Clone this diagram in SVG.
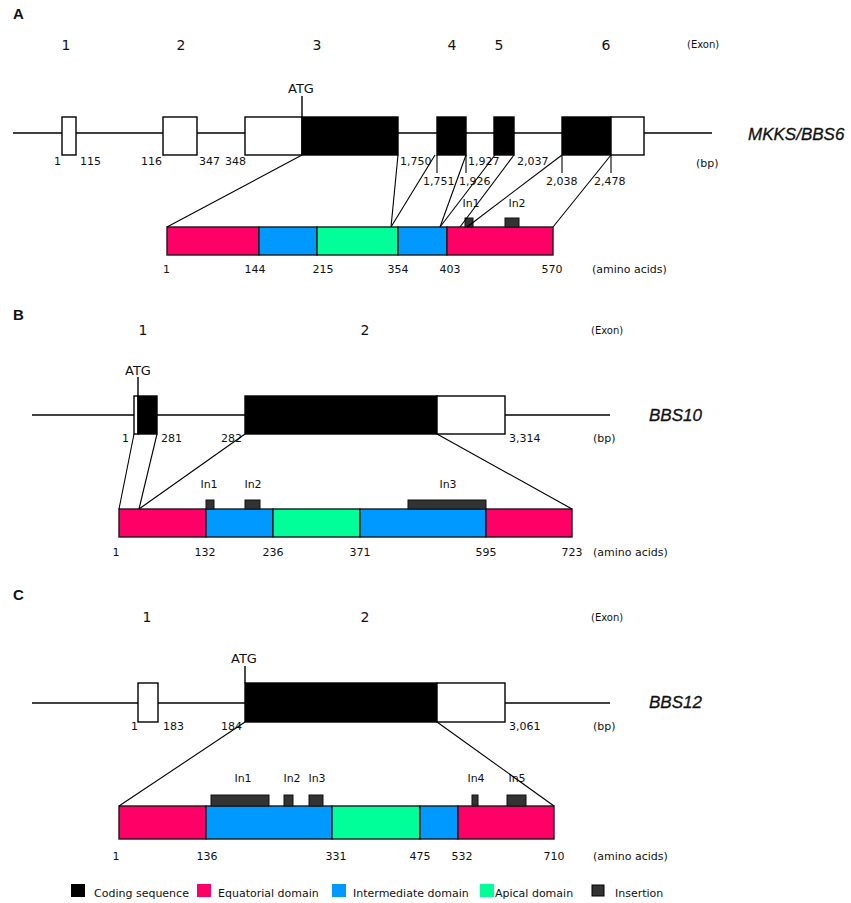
<svg xmlns="http://www.w3.org/2000/svg" width="851" height="903" viewBox="0 0 851 903">
<style>
text{font-family:"DejaVu Sans",Verdana,sans-serif;fill:#111}
.pl{font-family:"Liberation Sans",Arial,sans-serif;font-weight:bold;font-size:15px}
.ex{font-size:14px;text-anchor:middle}
.exl{font-size:10px}
.atg{font-size:13px;text-anchor:middle}
.bp{font-size:11px}
.aa{font-size:11px;text-anchor:middle}
.gn{font-family:"Liberation Sans",Arial,sans-serif;font-style:italic;font-size:17px;stroke:#111;stroke-width:0.3}
.ins{font-size:11px;text-anchor:middle}
.lg{font-size:11px}
.gl{stroke:#000;stroke-width:1.4;fill:none}
.w{fill:#fff;stroke:#000;stroke-width:1.4}
.b{fill:#000;stroke:#000;stroke-width:1.4}
.ln{stroke:#000;stroke-width:1.1;fill:none}
.eq{fill:#FF0066;stroke:#1a1a1a;stroke-width:1.4}
.im{fill:#0099FF;stroke:#1a1a1a;stroke-width:1.4}
.ap{fill:#00FF99;stroke:#1a1a1a;stroke-width:1.4}
.in{fill:#333;stroke:#111;stroke-width:1}
</style>

<!-- ===== Panel A ===== -->
<g id="panelA">
<text class="pl" x="13" y="19">A</text>
<text class="ex" x="66" y="50">1</text>
<text class="ex" x="181" y="50">2</text>
<text class="ex" x="317" y="50">3</text>
<text class="ex" x="452" y="50">4</text>
<text class="ex" x="499" y="50">5</text>
<text class="ex" x="606" y="50">6</text>
<text class="exl" x="687" y="48">(Exon)</text>
</g>
<g id="geneA">
<line class="gl" x1="13" y1="133" x2="712" y2="133"/>
<line class="gl" x1="302" y1="96" x2="302" y2="117"/>
<text class="atg" x="301" y="93">ATG</text>
<rect class="w" x="62" y="117" width="14" height="38"/>
<rect class="w" x="163" y="117" width="34" height="38"/>
<rect class="w" x="245" y="117" width="57" height="38"/>
<rect class="b" x="302" y="117" width="96" height="38"/>
<rect class="b" x="437" y="117" width="29" height="38"/>
<rect class="b" x="494" y="117" width="20" height="38"/>
<rect class="b" x="562" y="117" width="49" height="38"/>
<rect class="w" x="611" y="117" width="33" height="38"/>
<text class="gn" x="748" y="140">MKKS/BBS6</text>
<text class="bp" x="696" y="167">(bp)</text>
<text class="bp" x="54" y="165">1</text>
<text class="bp" x="80" y="165">115</text>
<text class="bp" x="141" y="165">116</text>
<text class="bp" x="199" y="165">347</text>
<text class="bp" x="225" y="165">348</text>
<text class="bp" x="400" y="165">1,750</text>
<text class="bp" x="468" y="165">1,927</text>
<text class="bp" x="517" y="165">2,037</text>
<text class="bp" x="423" y="185">1,751</text>
<text class="bp" x="459" y="185">1,926</text>
<text class="bp" x="546" y="185">2,038</text>
<text class="bp" x="594" y="185">2,478</text>
</g>
<g id="proteinA">
<rect class="eq" x="167" y="227" width="92" height="28"/>
<rect class="im" x="259" y="227" width="58" height="28"/>
<rect class="ap" x="317" y="227" width="81" height="28"/>
<rect class="im" x="398" y="227" width="49" height="28"/>
<rect class="eq" x="447" y="227" width="106" height="28"/>
<rect class="in" x="465" y="218" width="8" height="9"/>
<rect class="in" x="505" y="218" width="14" height="9"/>
<text class="ins" x="471" y="207">In1</text>
<text class="ins" x="517" y="207">In2</text>
<text class="bp" x="163" y="273">1</text>
<text class="aa" x="255" y="273">144</text>
<text class="aa" x="323" y="273">215</text>
<text class="aa" x="398" y="273">354</text>
<text class="aa" x="450" y="273">403</text>
<text class="aa" x="552" y="273">570</text>
<text class="bp" x="592" y="273">(amino acids)</text>
</g>

<!-- ===== Panel B ===== -->
<g id="panelB">
<text class="pl" x="13" y="320">B</text>
<text class="ex" x="143" y="335">1</text>
<text class="ex" x="365" y="335">2</text>
<text class="exl" x="591" y="334">(Exon)</text>
</g>
<g id="geneB">
<line class="gl" x1="32" y1="415" x2="610" y2="415"/>
<line class="gl" x1="138" y1="377" x2="138" y2="396"/>
<text class="atg" x="138" y="375">ATG</text>
<rect class="w" x="134" y="396" width="4" height="38"/>
<rect class="b" x="138" y="396" width="19" height="38"/>
<rect class="b" x="245" y="396" width="192" height="38"/>
<rect class="w" x="437" y="396" width="68" height="38"/>
<text class="gn" x="649" y="421">BBS10</text>
<text class="bp" x="593" y="442">(bp)</text>
<text class="bp" x="122" y="442">1</text>
<text class="bp" x="161" y="442">281</text>
<text class="bp" x="221" y="442">282</text>
<text class="bp" x="509" y="442">3,314</text>
</g>
<g id="proteinB">
<rect class="eq" x="119" y="509" width="87" height="28"/>
<rect class="im" x="206" y="509" width="67" height="28"/>
<rect class="ap" x="273" y="509" width="87" height="28"/>
<rect class="im" x="360" y="509" width="126" height="28"/>
<rect class="eq" x="486" y="509" width="86" height="28"/>
<rect class="in" x="206" y="500" width="8" height="9"/>
<rect class="in" x="245" y="500" width="15" height="9"/>
<rect class="in" x="408" y="500" width="78" height="9"/>
<text class="ins" x="209" y="488">In1</text>
<text class="ins" x="253" y="488">In2</text>
<text class="ins" x="448" y="488">In3</text>
<text class="aa" x="116" y="556">1</text>
<text class="aa" x="205" y="556">132</text>
<text class="aa" x="273" y="556">236</text>
<text class="aa" x="360" y="556">371</text>
<text class="aa" x="486" y="556">595</text>
<text class="aa" x="572" y="556">723</text>
<text class="bp" x="593" y="556">(amino acids)</text>
</g>

<!-- ===== Panel C ===== -->
<g id="panelC">
<text class="pl" x="13" y="600">C</text>
<text class="ex" x="147" y="622">1</text>
<text class="ex" x="365" y="622">2</text>
<text class="exl" x="591" y="621">(Exon)</text>
</g>
<g id="geneC">
<line class="gl" x1="32" y1="703" x2="610" y2="703"/>
<line class="gl" x1="245" y1="666" x2="245" y2="683"/>
<text class="atg" x="244" y="663">ATG</text>
<rect class="w" x="138" y="683" width="20" height="39"/>
<rect class="b" x="245" y="683" width="192" height="39"/>
<rect class="w" x="437" y="683" width="68" height="39"/>
<text class="gn" x="649" y="708">BBS12</text>
<text class="bp" x="593" y="730">(bp)</text>
<text class="bp" x="131" y="730">1</text>
<text class="bp" x="163" y="730">183</text>
<text class="bp" x="221" y="730">184</text>
<text class="bp" x="509" y="730">3,061</text>
</g>
<g id="proteinC">
<rect class="eq" x="119" y="806" width="87" height="33"/>
<rect class="im" x="206" y="806" width="126" height="33"/>
<rect class="ap" x="332" y="806" width="88" height="33"/>
<rect class="im" x="420" y="806" width="38" height="33"/>
<rect class="eq" x="458" y="806" width="96" height="33"/>
<rect class="in" x="211" y="795" width="58" height="11"/>
<rect class="in" x="284" y="795" width="9" height="11"/>
<rect class="in" x="309" y="795" width="14" height="11"/>
<rect class="in" x="472" y="795" width="6" height="11"/>
<rect class="in" x="507" y="795" width="19" height="11"/>
<text class="ins" x="243" y="782">In1</text>
<text class="ins" x="292" y="782">In2</text>
<text class="ins" x="317" y="782">In3</text>
<text class="ins" x="476" y="782">In4</text>
<text class="ins" x="517" y="782">In5</text>
<text class="aa" x="116" y="860">1</text>
<text class="aa" x="207" y="860">136</text>
<text class="aa" x="336" y="860">331</text>
<text class="aa" x="420" y="860">475</text>
<text class="aa" x="462" y="860">532</text>
<text class="aa" x="554" y="860">710</text>
<text class="bp" x="593" y="860">(amino acids)</text>
</g>

<!-- ===== Connectors ===== -->
<g id="connectors">
<!-- A ticks -->
<line class="ln" x1="437" y1="155" x2="437" y2="173"/>
<line class="ln" x1="466" y1="155" x2="466" y2="173"/>
<line class="ln" x1="562" y1="155" x2="562" y2="173"/>
<line class="ln" x1="611" y1="155" x2="611" y2="173"/>
<!-- A diagonals -->
<line class="ln" x1="302" y1="155" x2="167" y2="227"/>
<line class="ln" x1="398" y1="155" x2="391" y2="227"/>
<line class="ln" x1="435" y1="155" x2="391" y2="227"/>
<line class="ln" x1="466" y1="155" x2="440" y2="227"/>
<line class="ln" x1="495" y1="155" x2="440" y2="227"/>
<line class="ln" x1="514" y1="155" x2="460" y2="227"/>
<line class="ln" x1="562" y1="155" x2="467" y2="227"/>
<line class="ln" x1="611" y1="155" x2="553" y2="227"/>
<!-- B -->
<line class="ln" x1="134" y1="434" x2="119" y2="509"/>
<line class="ln" x1="157" y1="434" x2="139" y2="509"/>
<line class="ln" x1="245" y1="434" x2="139" y2="509"/>
<line class="ln" x1="437" y1="434" x2="572" y2="509"/>
<!-- C -->
<line class="ln" x1="245" y1="722" x2="119" y2="806"/>
<line class="ln" x1="437" y1="722" x2="554" y2="806"/>
</g>

<!-- ===== Legend ===== -->
<g id="legend">
<rect x="71" y="884" width="14" height="13" fill="#000"/>
<text class="lg" x="94" y="897">Coding sequence</text>
<rect x="197" y="884" width="14" height="13" fill="#FF0066"/>
<text class="lg" x="218" y="897">Equatorial domain</text>
<rect x="332" y="884" width="14" height="13" fill="#0099FF"/>
<text class="lg" x="353" y="897">Intermediate domain</text>
<rect x="480" y="884" width="14" height="13" fill="#00FF99"/>
<text class="lg" x="495" y="897">Apical domain</text>
<rect x="592" y="885" width="12" height="11" fill="#333" stroke="#000" stroke-width="1"/>
<text class="lg" x="615" y="897">Insertion</text>
</g>
</svg>
